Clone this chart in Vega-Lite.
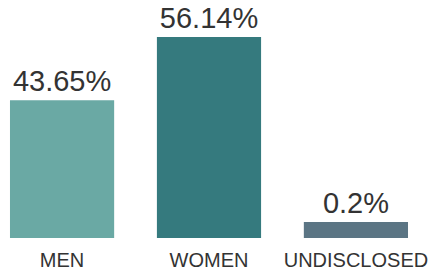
{
  "$schema": "https://vega.github.io/schema/vega-lite/v6.json",
  "width": 428,
  "height": 238,
  "autosize": {"type": "none"},
  "padding": {"top": 0, "left": 0, "right": 0, "bottom": 33},
  "background": "white",
  "config": {"view": {"stroke": null}, "font": "Liberation Sans"},
  "data": {
    "values": [
      {"gender": "MEN", "pct": 43.65, "label": "43.65%", "bar": 38.5},
      {"gender": "WOMEN", "pct": 56.14, "label": "56.14%", "bar": 56.14},
      {"gender": "UNDISCLOSED", "pct": 0.2, "label": "0.2%", "bar": 4.5}
    ]
  },
  "encoding": {
    "x": {
      "field": "gender",
      "type": "nominal",
      "sort": null,
      "scale": {"paddingInner": 0.291, "paddingOuter": 0.102, "align": 0.333},
      "axis": {
        "title": null,
        "ticks": false,
        "domain": false,
        "labelAngle": 0,
        "labelFontSize": 20,
        "labelColor": "#333333",
        "labelBaseline": "alphabetic",
        "labelPadding": 28,
        "labelFont": "Liberation Sans"
      }
    },
    "y": {
      "field": "bar",
      "type": "quantitative",
      "scale": {"domain": [0, 66.5], "nice": false},
      "axis": null
    }
  },
  "layer": [
    {
      "mark": {"type": "bar"},
      "encoding": {
        "color": {
          "field": "gender",
          "type": "nominal",
          "scale": {"domain": ["MEN", "WOMEN", "UNDISCLOSED"], "range": ["#6aa9a4", "#357a7e", "#5b7584"]},
          "legend": null
        }
      }
    },
    {
      "mark": {"type": "text", "baseline": "alphabetic", "align": "center", "dy": -9, "fontSize": 29, "color": "#333333", "font": "Liberation Sans"},
      "encoding": {"text": {"field": "label"}}
    }
  ]
}
